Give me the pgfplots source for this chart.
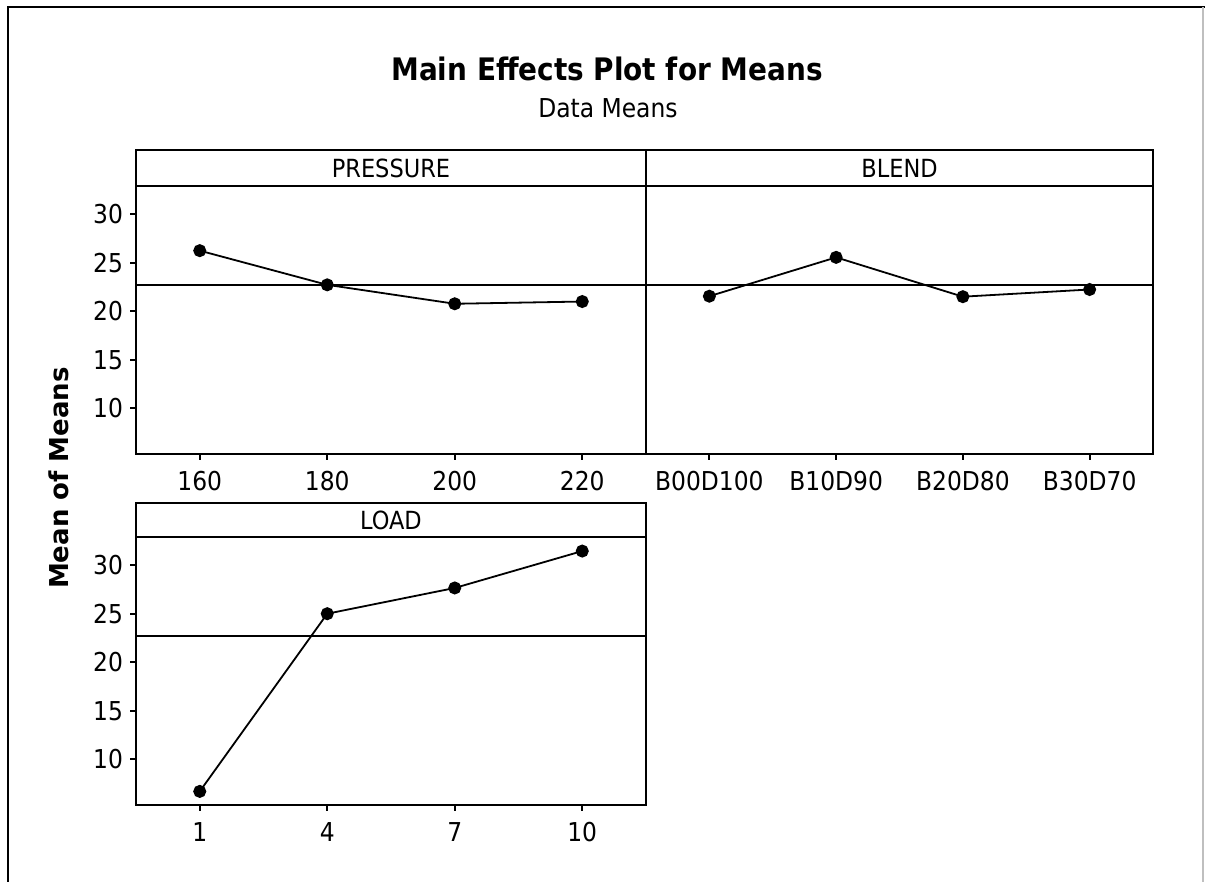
\documentclass[border=0pt]{standalone}
\usepackage{pgfplots}
\pgfplotsset{compat=1.18}
\usepackage{fontspec}
\setmainfont{DejaVu Sans Condensed}
\newfontfamily\widefont{DejaVu Sans}

\pgfplotsset{
  panel/.style={
    scale only axis, height=134pt,
    anchor=south west,
    xmin=0.5, xmax=4.5, ymin=5.3, ymax=32.9,
    xtick={1,2,3,4},
    ytick={10,15,20,25,30},
    tick align=outside, xtick pos=left, ytick pos=left,
    major tick length=3pt,
    clip=false,
    axis line style={line width=0.9pt},
    tick style={black, line width=0.9pt},
    ticklabel style={font=\fontsize{13}{15}\selectfont},
    xticklabel style={yshift=-2pt},
    /pgf/number format/assume math mode=true,
  },
  meanline/.style={black, line width=0.7pt, mark=none},
  dataline/.style={black, line width=0.9pt, mark=*, mark size=2.8pt, mark options={fill=black}},
}

\begin{document}
\begin{tikzpicture}
\path[use as bounding box] (0pt,0pt) rectangle (602.5pt,441pt);
\draw[line width=1.4pt] (4pt,0pt) -- (4pt,437.5pt) -- (602.5pt,437.5pt);
\draw[black!25, line width=0.6pt] (601.5pt,0pt) -- (601.5pt,437.5pt);

\node[anchor=base, font=\bfseries\fontsize{15.5}{17}\selectfont] at (303.5pt,400.5pt) {Main Effects Plot for Means};
\node[anchor=base, font=\fontsize{13}{15}\selectfont] at (304pt,382pt) {Data Means};
\node[rotate=90, font=\widefont\bfseries\fontsize{13}{15}\selectfont] at (29.5pt,202pt) {Mean of Means};

% PRESSURE
\begin{axis}[panel, at={(68pt,214pt)}, width=255pt,
  xticklabels={160,180,200,220}]
  \addplot[meanline] coordinates {(0.5,22.7) (4.5,22.7)};
  \addplot[dataline] coordinates {(1,26.24) (2,22.72) (3,20.77) (4,21.0)};
  \draw[line width=0.9pt] (rel axis cs:0,1) rectangle (rel axis cs:1,1.134);
  \node[font=\fontsize{12.5}{14}\selectfont] at (rel axis cs:0.5,1.067) {PRESSURE};
\end{axis}

% BLEND
\begin{axis}[panel, at={(323pt,214pt)}, width=253.5pt,
  ytick=\empty,
  xticklabels={B00D100,B10D90,B20D80,B30D70}]
  \addplot[meanline] coordinates {(0.5,22.7) (4.5,22.7)};
  \addplot[dataline] coordinates {(1,21.55) (2,25.55) (3,21.5) (4,22.24)};
  \draw[line width=0.9pt] (rel axis cs:0,1) rectangle (rel axis cs:1,1.134);
  \node[font=\fontsize{12.5}{14}\selectfont] at (rel axis cs:0.5,1.067) {BLEND};
\end{axis}

% LOAD
\begin{axis}[panel, at={(68pt,38.5pt)}, width=255pt,
  xticklabels={1,4,7,10}]
  \addplot[meanline] coordinates {(0.5,22.7) (4.5,22.7)};
  \addplot[dataline] coordinates {(1,6.7) (2,25.0) (3,27.65) (4,31.45)};
  \draw[line width=0.9pt] (rel axis cs:0,1) rectangle (rel axis cs:1,1.127);
  \node[font=\fontsize{12.5}{14}\selectfont] at (rel axis cs:0.5,1.063) {LOAD};
\end{axis}
\end{tikzpicture}
\end{document}
